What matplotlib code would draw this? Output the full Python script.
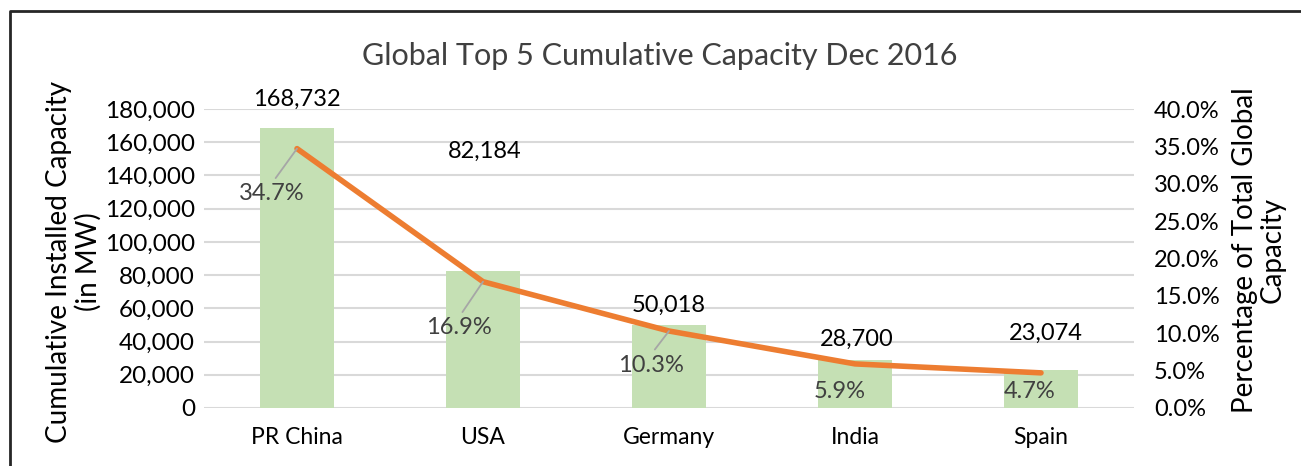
import matplotlib
matplotlib.use("Agg")
import matplotlib.pyplot as plt
from matplotlib.ticker import FuncFormatter, PercentFormatter
from matplotlib.lines import Line2D

# ---- data ----
countries = ["PR China", "USA", "Germany", "India", "Spain"]
capacity_mw = [168732, 82184, 50018, 28700, 23074]
share_pct = [34.7, 16.9, 10.3, 5.9, 4.7]
capacity_labels = ["168,732", "82,184", "50,018", "28,700", "23,074"]
share_labels = ["34.7%", "16.9%", "10.3%", "5.9%", "4.7%"]

# label offsets in pixels (layout only)
cap_offsets = [(0, 28), (2, 120), (0, 20), (2, 21), (5, 36)]
pct_offsets = [(-25, -45), (-24, -46), (-18, -34), (-15, -28), (-11, -19)]
pct_leader = [True, True, True, False, False]

plt.rcParams['font.family'] = ['Lato', 'DejaVu Sans']

W, H = 1301, 466
fig = plt.figure(figsize=(W / 100, H / 100), dpi=100)

left, right, bottom, top = 204, 1134, 408, 109
ax = fig.add_axes([left / W, 1 - bottom / H, (right - left) / W, (bottom - top) / H])

x = list(range(len(countries)))
ax.bar(x, capacity_mw, width=0.4, color="#C5E0B4", zorder=2)
ax.set_xlim(-0.5, len(countries) - 0.5)
ax.set_ylim(0, 180000)
ax.set_yticks(range(0, 180001, 20000))
ax.yaxis.set_major_formatter(FuncFormatter(lambda v, p: f"{int(v):,}"))
ax.grid(axis="y", color="#D9D9D9", linewidth=1.5, zorder=0)
ax.set_axisbelow(True)
for s in ax.spines.values():
    s.set_visible(False)
ax.tick_params(axis="both", length=0, labelsize=17.5, colors="black")
ax.tick_params(axis="y", pad=6.5)
ax.tick_params(axis="x", pad=14)
ax.set_xticks(x)
ax.set_xticklabels(countries, fontsize=16.5)

for xi, v, lab, (dx, dy) in zip(x, capacity_mw, capacity_labels, cap_offsets):
    ax.annotate(lab, (xi, v), xytext=(dx, dy), textcoords="offset pixels",
                ha="center", va="center", fontsize=17, color="black", zorder=5)

ax2 = ax.twinx()
ax2.set_ylim(0, 40)
ax2.set_yticks(range(0, 41, 5))
ax2.yaxis.set_major_formatter(PercentFormatter(decimals=1))
for s in ax2.spines.values():
    s.set_visible(False)
ax2.tick_params(axis="y", length=0, labelsize=17, colors="black", pad=14.4)
ax2.plot(x, share_pct, color="#ED7D31", linewidth=4, solid_capstyle="round",
         solid_joinstyle="round", zorder=3)

for xi, v, lab, (dx, dy), ld in zip(x, share_pct, share_labels, pct_offsets, pct_leader):
    kw = {}
    if ld:
        kw["arrowprops"] = dict(arrowstyle="-", color="#A6A6A6", lw=1.3,
                                shrinkA=2, shrinkB=0, relpos=(0.5, 1.0))
    ax2.annotate(lab, (xi, v), xytext=(dx, dy), textcoords="offset pixels",
                 ha="center", va="center", fontsize=17, color="#404040", zorder=6, **kw)

fig.text(660 / W, 1 - 56 / H, "Global Top 5 Cumulative Capacity Dec 2016",
         ha="center", va="center", fontsize=22, color="#404040")
fig.text(74 / W, 1 - 262 / H, "Cumulative Installed Capacity\n(in MW)",
         ha="center", va="center", rotation=90, fontsize=20, color="black",
         linespacing=1.1)
fig.text(1259 / W, 1 - 250 / H, "Percentage of Total Global\nCapacity",
         ha="center", va="center", rotation=90, fontsize=20, color="black",
         linespacing=1.1)

# outer frame (top and left edges visible)
fig.add_artist(Line2D([9.5 / W, 9.5 / W, 1.0], [0.0, 1 - 11 / H, 1 - 11 / H],
                      transform=fig.transFigure, color="#262626", linewidth=2))

fig.savefig("out.png", dpi=100)
